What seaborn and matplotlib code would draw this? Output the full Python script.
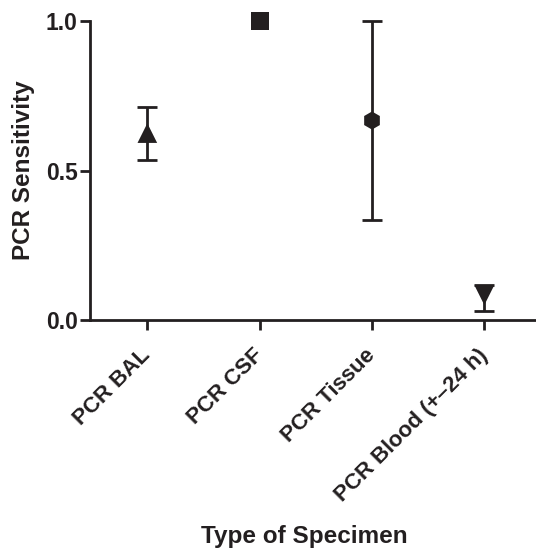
import matplotlib
matplotlib.use("Agg")
import matplotlib.pyplot as plt
import seaborn as sns
import pandas as pd

# data
specimens = ["PCR BAL", "PCR CSF", "PCR Tissue", "PCR Blood (+\u201324 h)"]
sensitivity = [0.625, 1.0, 0.667, 0.083]
err_low = [0.536, 1.0, 0.333, 0.031]
err_high = [0.712, 1.0, 1.0, 0.117]
markers = ["^", "s", "h", "v"]
marker_area = [200, 170, 170, 200]

df = pd.DataFrame({"specimen": specimens, "sensitivity": sensitivity})
ink = "#231f20"

sns.set_theme(style="ticks")
plt.rcParams["font.family"] = ["Liberation Sans", "DejaVu Sans"]
plt.rcParams["font.weight"] = "bold"
plt.rcParams["text.color"] = ink
plt.rcParams["axes.labelcolor"] = ink
plt.rcParams["xtick.color"] = ink
plt.rcParams["ytick.color"] = ink

fig = plt.figure(figsize=(5.36, 5.50), dpi=100)
ax = fig.add_axes([0.168, 0.418, 0.832, 0.544])

# error bars (range) for each specimen type
for i in range(len(specimens)):
    if err_high[i] > err_low[i]:
        ax.errorbar(i, sensitivity[i],
                    yerr=[[sensitivity[i] - err_low[i]], [err_high[i] - sensitivity[i]]],
                    fmt="none", ecolor=ink, elinewidth=2, capsize=7.5, capthick=2,
                    zorder=4, clip_on=False)

sns.scatterplot(data=df, x="specimen", y="sensitivity", style="specimen",
                size="specimen", sizes=dict(zip(specimens, marker_area)),
                markers=dict(zip(specimens, markers)), color=ink,
                edgecolor="none", legend=False, ax=ax, zorder=3, clip_on=False)

ax.set_xlim(-0.51, 3.46)
ax.set_ylim(0, 1.0)
ax.set_yticks([0.0, 0.5, 1.0])
ax.set_yticklabels(["0.0", "0.5", "1.0"], fontsize=16.5, fontweight="bold")
ax.set_xticks(range(len(specimens)))
ax.set_xticklabels(specimens, rotation=45, ha="right", va="center",
                   rotation_mode="anchor", fontsize=16, fontweight="bold")

ax.set_ylabel("PCR Sensitivity", fontsize=17.5, fontweight="bold", labelpad=8)
ax.set_xlabel("Type of Specimen", fontsize=17.5, fontweight="bold")
ax.xaxis.set_label_coords(0.48, -0.685)

sns.despine(ax=ax)
for side in ["left", "bottom"]:
    ax.spines[side].set_linewidth(2)
    ax.spines[side].set_color(ink)
ax.tick_params(axis="both", width=2, length=7, color=ink)
ax.tick_params(axis="y", pad=2)
ax.tick_params(axis="x", pad=16)

fig.savefig("out.png", dpi=100)
